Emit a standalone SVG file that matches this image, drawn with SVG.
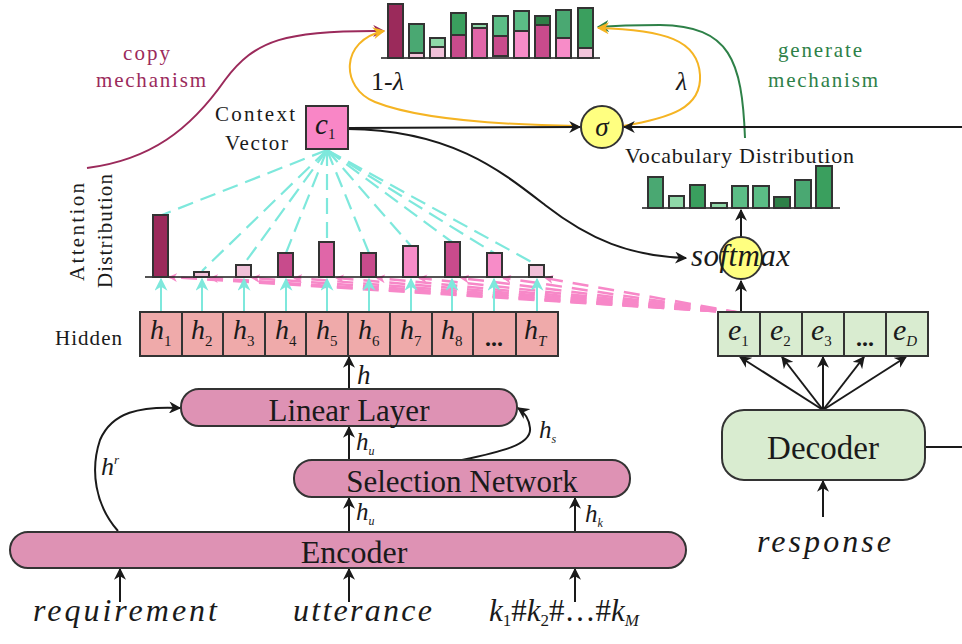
<svg xmlns="http://www.w3.org/2000/svg" width="962" height="644" viewBox="0 0 962 644">
<style>
.t{font-family:"Liberation Serif","Times New Roman",serif;fill:#1a1a1a}
.i{font-family:"Liberation Serif","Times New Roman",serif;font-style:italic;fill:#1a1a1a}
.n{font-style:normal}
.bar{stroke:#333;stroke-width:2}
.box{stroke:#333;stroke-width:2}
.blk{fill:none;stroke:#1a1a1a;stroke-width:2}
.cy{fill:none;stroke:#7ee8dc;stroke-width:2}
.cyd{fill:none;stroke:#7ee8dc;stroke-width:2.2;stroke-dasharray:16 8}
.pkd{fill:none;stroke:#f788c8;stroke-width:2.5;stroke-dasharray:16 10}
.base{stroke:#1a1a1a;stroke-width:1.5}
</style>
<defs>
<marker id="ab" viewBox="0 0 10 10" refX="9" refY="5" markerWidth="12" markerHeight="12" markerUnits="userSpaceOnUse" orient="auto"><path d="M0,0 L10,5 L0,10 L3,5 z" fill="#1a1a1a"/></marker>
<marker id="ac" viewBox="0 0 10 10" refX="9" refY="5" markerWidth="13" markerHeight="13" markerUnits="userSpaceOnUse" orient="auto"><path d="M0,0 L10,5 L0,10 L3,5 z" fill="#7ee8dc"/></marker>
<marker id="ao" viewBox="0 0 10 10" refX="9" refY="5" markerWidth="12" markerHeight="12" markerUnits="userSpaceOnUse" orient="auto"><path d="M0,0 L10,5 L0,10 L3,5 z" fill="#f5b423"/></marker>
<marker id="ap" viewBox="0 0 10 10" refX="9" refY="5" markerWidth="12" markerHeight="12" markerUnits="userSpaceOnUse" orient="auto"><path d="M0,0 L10,5 L0,10 L3,5 z" fill="#9b2a5b"/></marker>
<marker id="ag" viewBox="0 0 10 10" refX="9" refY="5" markerWidth="12" markerHeight="12" markerUnits="userSpaceOnUse" orient="auto"><path d="M0,0 L10,5 L0,10 L3,5 z" fill="#2e8148"/></marker>
<marker id="ak" viewBox="0 0 10 10" refX="9" refY="5" markerWidth="9" markerHeight="9" markerUnits="userSpaceOnUse" orient="auto"><path d="M0,0 L10,5 L0,10 L3,5 z" fill="#f788c8"/></marker>
</defs>
<rect width="962" height="644" fill="#fff"/>

<!-- Final mixed distribution -->
<g id="final-dist">
<line class="base" x1="381" y1="58" x2="600" y2="58"/>
<rect class="bar" x="388" y="4" width="15" height="54" fill="#9b2a5b"/>
<rect x="409" y="24" width="15" height="29" fill="#4aa872"/><rect x="409" y="53" width="15" height="5" fill="#f2c4da"/><rect class="bar" x="409" y="24" width="15" height="34" fill="none"/><line class="bar" x1="409" y1="53" x2="424" y2="53"/>
<rect x="430" y="38" width="15" height="9" fill="#8fd8a8"/><rect x="430" y="47" width="15" height="11" fill="#f0c0d8"/><rect class="bar" x="430" y="38" width="15" height="20" fill="none"/><line class="bar" x1="430" y1="47" x2="445" y2="47"/>
<rect x="451" y="13" width="15" height="22" fill="#3a9f5e"/><rect x="451" y="35" width="15" height="23" fill="#c84b8c"/><rect class="bar" x="451" y="13" width="15" height="45" fill="none"/><line class="bar" x1="451" y1="35" x2="466" y2="35"/>
<rect x="472" y="24" width="15" height="4" fill="#8fd8a8"/><rect x="472" y="28" width="15" height="30" fill="#e066a8"/><rect class="bar" x="472" y="24" width="15" height="34" fill="none"/><line class="bar" x1="472" y1="28" x2="487" y2="28"/>
<rect x="493" y="16" width="15" height="20" fill="#5bbd86"/><rect x="493" y="36" width="15" height="20" fill="#c84b8c"/><rect class="bar" x="493" y="16" width="15" height="40" fill="none"/><line class="bar" x1="493" y1="36" x2="508" y2="36"/>
<rect x="514" y="11" width="15" height="20" fill="#5bbd86"/><rect x="514" y="31" width="15" height="27" fill="#f78cc8"/><rect class="bar" x="514" y="11" width="15" height="47" fill="none"/><line class="bar" x1="514" y1="31" x2="529" y2="31"/>
<rect x="535" y="16" width="15" height="9" fill="#2e8148"/><rect x="535" y="25" width="15" height="33" fill="#c84b8c"/><rect class="bar" x="535" y="16" width="15" height="42" fill="none"/><line class="bar" x1="535" y1="25" x2="550" y2="25"/>
<rect x="556" y="10" width="15" height="28" fill="#4aa872"/><rect x="556" y="38" width="15" height="20" fill="#f78cc8"/><rect class="bar" x="556" y="10" width="15" height="48" fill="none"/><line class="bar" x1="556" y1="38" x2="571" y2="38"/>
<rect x="578" y="8" width="15" height="40" fill="#3a9f5e"/><rect x="578" y="48" width="15" height="10" fill="#f2c4da"/><rect class="bar" x="578" y="8" width="15" height="50" fill="none"/><line class="bar" x1="578" y1="48" x2="593" y2="48"/>
</g>

<!-- Connectors -->
<g id="connectors">
<path d="M87,168 C150,160 190,130 225,80 C255,40 285,30 384,31" fill="none" stroke="#9b2a5b" stroke-width="2" marker-end="url(#ap)"/>
<path d="M745,138 C742,60 730,26 660,25 C630,25 610,26 598,27" fill="none" stroke="#2e8148" stroke-width="2" marker-end="url(#ag)"/>
<path d="M578,126 C510,125 420,120 375,102 C340,88 340,40 384,31" fill="none" stroke="#f5b423" stroke-width="2" marker-end="url(#ao)"/>
<path d="M623,126 C670,118 702,108 700,75 C698,40 665,30 598,28" fill="none" stroke="#f5b423" stroke-width="2" marker-end="url(#ao)"/>
<line class="blk" x1="348" y1="128" x2="580" y2="127" marker-end="url(#ab)"/>
<line class="blk" x1="962" y1="127" x2="624" y2="127" marker-end="url(#ab)"/>
<path class="blk" d="M348,129 C450,130 500,170 545,205 C590,240 630,256 686,258" marker-end="url(#ab)"/>
<line class="blk" x1="741" y1="312" x2="741" y2="281" marker-end="url(#ab)"/>
<line class="blk" x1="741" y1="237" x2="741" y2="210" marker-end="url(#ab)"/>
<line class="blk" x1="823" y1="410" x2="740" y2="357" marker-end="url(#ab)"/>
<line class="blk" x1="823" y1="410" x2="782" y2="357" marker-end="url(#ab)"/>
<line class="blk" x1="823" y1="410" x2="823" y2="357" marker-end="url(#ab)"/>
<line class="blk" x1="823" y1="410" x2="864" y2="357" marker-end="url(#ab)"/>
<line class="blk" x1="823" y1="410" x2="906" y2="357" marker-end="url(#ab)"/>
<line class="blk" x1="925" y1="447" x2="962" y2="447"/>
<line class="blk" x1="823" y1="517" x2="823" y2="481" marker-end="url(#ab)"/>
<line class="pkd" x1="742" y1="313" x2="169" y2="277" marker-end="url(#ak)"/>
<line class="pkd" x1="742" y1="313" x2="210" y2="278" marker-end="url(#ak)"/>
<line class="pkd" x1="742" y1="313" x2="252" y2="278" marker-end="url(#ak)"/>
<line class="pkd" x1="742" y1="313" x2="294" y2="278" marker-end="url(#ak)"/>
<line class="pkd" x1="742" y1="313" x2="336" y2="278" marker-end="url(#ak)"/>
<line class="pkd" x1="742" y1="313" x2="377" y2="278" marker-end="url(#ak)"/>
<line class="pkd" x1="742" y1="313" x2="419" y2="278" marker-end="url(#ak)"/>
<line class="pkd" x1="742" y1="313" x2="461" y2="278" marker-end="url(#ak)"/>
<line class="pkd" x1="742" y1="313" x2="503" y2="278" marker-end="url(#ak)"/>
<line class="pkd" x1="742" y1="313" x2="545" y2="278" marker-end="url(#ak)"/>
<line class="cyd" x1="327" y1="150" x2="162" y2="215"/>
<line class="cyd" x1="327" y1="150" x2="202" y2="271"/>
<line class="cyd" x1="327" y1="150" x2="244" y2="264"/>
<line class="cyd" x1="327" y1="150" x2="286" y2="253"/>
<line class="cyd" x1="327" y1="150" x2="327" y2="242"/>
<line class="cyd" x1="327" y1="150" x2="369" y2="253"/>
<line class="cyd" x1="327" y1="150" x2="411" y2="246"/>
<line class="cyd" x1="327" y1="150" x2="452" y2="242"/>
<line class="cyd" x1="327" y1="150" x2="494" y2="253"/>
<line class="cyd" x1="327" y1="150" x2="537" y2="265"/>
<line class="cy" x1="161" y1="312" x2="161" y2="279" marker-end="url(#ac)"/>
<line class="cy" x1="202" y1="312" x2="202" y2="279" marker-end="url(#ac)"/>
<line class="cy" x1="244" y1="312" x2="244" y2="279" marker-end="url(#ac)"/>
<line class="cy" x1="286" y1="312" x2="286" y2="279" marker-end="url(#ac)"/>
<line class="cy" x1="327" y1="312" x2="327" y2="279" marker-end="url(#ac)"/>
<line class="cy" x1="369" y1="312" x2="369" y2="279" marker-end="url(#ac)"/>
<line class="cy" x1="411" y1="312" x2="411" y2="279" marker-end="url(#ac)"/>
<line class="cy" x1="452" y1="312" x2="452" y2="279" marker-end="url(#ac)"/>
<line class="cy" x1="494" y1="312" x2="494" y2="279" marker-end="url(#ac)"/>
<line class="cy" x1="537" y1="312" x2="537" y2="279" marker-end="url(#ac)"/>
<line class="blk" x1="349" y1="389" x2="349" y2="357" marker-end="url(#ab)"/>
<line class="blk" x1="349" y1="460" x2="349" y2="427" marker-end="url(#ab)"/>
<line class="blk" x1="349" y1="532" x2="349" y2="498" marker-end="url(#ab)"/>
<line class="blk" x1="575" y1="532" x2="575" y2="498" marker-end="url(#ab)"/>
<path class="blk" d="M462,460 C500,452 532,445 530,428 C529,418 524,412 518,408" marker-end="url(#ab)"/>
<path class="blk" d="M118,531 C95,505 90,470 100,440 C112,412 140,406 180,408" marker-end="url(#ab)"/>
<line class="blk" x1="120" y1="602" x2="120" y2="569" marker-end="url(#ab)"/>
<line class="blk" x1="349" y1="602" x2="349" y2="569" marker-end="url(#ab)"/>
<line class="blk" x1="575" y1="602" x2="575" y2="569" marker-end="url(#ab)"/>
</g>

<g id="labels">
<text class="t" x="123" y="60" font-size="21" textLength="47" lengthAdjust="spacing" style="fill:#9b2a5b">copy</text>
<text class="t" x="96" y="87" font-size="21" textLength="110" lengthAdjust="spacing" style="fill:#9b2a5b">mechanism</text>
<text class="t" x="778" y="57" font-size="21" textLength="84" lengthAdjust="spacing" style="fill:#2e8148">generate</text>
<text class="t" x="768" y="87" font-size="21" textLength="110" lengthAdjust="spacing" style="fill:#2e8148">mechanism</text>
<text class="t" x="371" y="90" font-size="26">1-<tspan class="i">λ</tspan></text>
<text class="i" x="676" y="90" font-size="26">λ</text>
<text class="t" x="215" y="121" font-size="21" textLength="80" lengthAdjust="spacing">Context</text>
<text class="t" x="225" y="150" font-size="21" textLength="63" lengthAdjust="spacing">Vector</text>
<text class="t" x="55" y="345" font-size="21" textLength="67" lengthAdjust="spacing">Hidden</text>
<text class="t" transform="translate(84,232) rotate(-90)" text-anchor="middle" font-size="21" textLength="98" lengthAdjust="spacing">Attention</text>
<text class="t" transform="translate(112,231) rotate(-90)" text-anchor="middle" font-size="21" textLength="114" lengthAdjust="spacing">Distribution</text>
<text class="i" x="101" y="475" font-size="26">h<tspan font-size="13" dy="-11">r</tspan></text>
<text class="i" x="357" y="384" font-size="27">h</text>
<text class="i" x="356" y="450" font-size="25">h<tspan font-size="12" dy="5">u</tspan></text>
<text class="i" x="356" y="520" font-size="25">h<tspan font-size="12" dy="5">u</tspan></text>
<text class="i" x="539" y="438" font-size="25">h<tspan font-size="12" dy="5">s</tspan></text>
<text class="i" x="585" y="522" font-size="25">h<tspan font-size="12" dy="5">k</tspan></text>
<text class="i" x="33" y="621" font-size="32" textLength="184" lengthAdjust="spacing">requirement</text>
<text class="i" x="293" y="621" font-size="32" textLength="139" lengthAdjust="spacing">utterance</text>
<text class="i" x="489" y="621" font-size="31">k<tspan font-size="17" dy="5" class="n">1</tspan><tspan dy="-5" class="n">#</tspan>k<tspan font-size="17" dy="5" class="n">2</tspan><tspan dy="-5" class="n">#…#</tspan>k<tspan font-size="17" dy="5">M</tspan></text>
<text class="i" x="757" y="552" font-size="32" textLength="134" lengthAdjust="spacing">response</text>
<text class="t" x="625" y="163" font-size="22" textLength="229" lengthAdjust="spacing">Vocabulary Distribution</text>
</g>

<g id="context-vector">
<rect class="box" x="306" y="106" width="42" height="43" fill="#f986c6"/>
<text class="i" x="315" y="134" font-size="29">c<tspan font-size="15" dy="5" class="n">1</tspan></text>
</g>

<g id="sigma">
<circle cx="602" cy="127" r="21" fill="#ffff80" stroke="#333" stroke-width="2"/>
<text class="i" x="602" y="136" font-size="27" text-anchor="middle">σ</text>
</g>

<g id="vocab-dist">
<line class="base" x1="642" y1="208" x2="840" y2="208"/>
<rect class="bar" x="648" y="177" width="15" height="31" fill="#4aa872"/>
<rect class="bar" x="669" y="196" width="15" height="12" fill="#8fd8a8"/>
<rect class="bar" x="690" y="185" width="15" height="23" fill="#3a9f5e"/>
<rect class="bar" x="711" y="203" width="16" height="5" fill="#8fd8a8"/>
<rect class="bar" x="732" y="186" width="16" height="22" fill="#5bbd86"/>
<rect class="bar" x="753" y="186" width="16" height="22" fill="#5bbd86"/>
<rect class="bar" x="774" y="197" width="16" height="11" fill="#2e8148"/>
<rect class="bar" x="795" y="180" width="16" height="28" fill="#4aa872"/>
<rect class="bar" x="816" y="166" width="16" height="42" fill="#3a9f5e"/>
</g>

<g id="softmax">
<circle cx="741" cy="258" r="21" fill="#ffff80" stroke="#333" stroke-width="2"/>
<text class="i" x="691" y="266" font-size="31" textLength="99" lengthAdjust="spacing">softmax</text>
</g>

<g id="attention-dist">
<line class="base" x1="145" y1="277" x2="553" y2="277"/>
<rect class="bar" x="153" y="215" width="15" height="62" fill="#9b2a5b"/>
<rect class="bar" x="194" y="272" width="15" height="5" fill="#f0c0d8"/>
<rect class="bar" x="236" y="265" width="15" height="12" fill="#f0c0d8"/>
<rect class="bar" x="278" y="253" width="15" height="24" fill="#c84b8c"/>
<rect class="bar" x="319" y="242" width="15" height="35" fill="#e066a8"/>
<rect class="bar" x="361" y="253" width="15" height="24" fill="#c84b8c"/>
<rect class="bar" x="403" y="246" width="15" height="31" fill="#f78cc8"/>
<rect class="bar" x="445" y="242" width="15" height="35" fill="#c84b8c"/>
<rect class="bar" x="487" y="253" width="15" height="24" fill="#f78cc8"/>
<rect class="bar" x="529" y="265" width="15" height="12" fill="#f0c0d8"/>
</g>

<g id="hidden">
<rect class="box" x="140" y="312" width="42" height="44" fill="#efaaaa"/>
<rect class="box" x="182" y="312" width="41" height="44" fill="#efaaaa"/>
<rect class="box" x="223" y="312" width="42" height="44" fill="#efaaaa"/>
<rect class="box" x="265" y="312" width="41" height="44" fill="#efaaaa"/>
<rect class="box" x="306" y="312" width="42" height="44" fill="#efaaaa"/>
<rect class="box" x="348" y="312" width="42" height="44" fill="#efaaaa"/>
<rect class="box" x="390" y="312" width="42" height="44" fill="#efaaaa"/>
<rect class="box" x="432" y="312" width="41" height="44" fill="#efaaaa"/>
<rect class="box" x="473" y="312" width="43" height="44" fill="#efaaaa"/>
<rect class="box" x="516" y="312" width="42" height="44" fill="#efaaaa"/>
<text class="i" x="150" y="339" font-size="28">h<tspan font-size="15" dy="7" class="n">1</tspan></text>
<text class="i" x="191" y="339" font-size="28">h<tspan font-size="15" dy="7" class="n">2</tspan></text>
<text class="i" x="233" y="339" font-size="28">h<tspan font-size="15" dy="7" class="n">3</tspan></text>
<text class="i" x="275" y="339" font-size="28">h<tspan font-size="15" dy="7" class="n">4</tspan></text>
<text class="i" x="316" y="339" font-size="28">h<tspan font-size="15" dy="7" class="n">5</tspan></text>
<text class="i" x="358" y="339" font-size="28">h<tspan font-size="15" dy="7" class="n">6</tspan></text>
<text class="i" x="400" y="339" font-size="28">h<tspan font-size="15" dy="7" class="n">7</tspan></text>
<text class="i" x="441" y="339" font-size="28">h<tspan font-size="15" dy="7" class="n">8</tspan></text>
<text class="t" x="494" y="346" font-size="24" text-anchor="middle" font-weight="bold">...</text>
<text class="i" x="524" y="339" font-size="28">h<tspan font-size="15" dy="7">T</tspan></text>
</g>

<g id="e-states">
<rect class="box" x="718" y="312" width="42" height="44" fill="#d9ecd0"/>
<rect class="box" x="760" y="312" width="42" height="44" fill="#d9ecd0"/>
<rect class="box" x="802" y="312" width="42" height="44" fill="#d9ecd0"/>
<rect class="box" x="844" y="312" width="42" height="44" fill="#d9ecd0"/>
<rect class="box" x="886" y="312" width="42" height="44" fill="#d9ecd0"/>
<text class="i" x="728" y="340" font-size="30">e<tspan font-size="15" dy="6" class="n">1</tspan></text>
<text class="i" x="770" y="340" font-size="30">e<tspan font-size="15" dy="6" class="n">2</tspan></text>
<text class="i" x="811" y="340" font-size="30">e<tspan font-size="15" dy="6" class="n">3</tspan></text>
<text class="t" x="865" y="346" font-size="24" text-anchor="middle" font-weight="bold">...</text>
<text class="i" x="893" y="340" font-size="30">e<tspan font-size="15" dy="6">D</tspan></text>
</g>

<g id="linear-layer">
<rect class="box" x="181" y="389" width="336" height="37" rx="18" fill="#de92b4"/>
<text class="t" x="349" y="421" font-size="31" text-anchor="middle">Linear Layer</text>
</g>
<g id="selection-network">
<rect class="box" x="294" y="460" width="336" height="37" rx="18" fill="#de92b4"/>
<text class="t" x="462" y="492" font-size="31" text-anchor="middle">Selection Network</text>
</g>
<g id="encoder">
<rect class="box" x="10" y="532" width="676" height="36" rx="18" fill="#de92b4"/>
<text class="t" x="354" y="563" font-size="32" text-anchor="middle">Encoder</text>
</g>
<g id="decoder">
<rect class="box" x="722" y="410" width="203" height="70" rx="22" fill="#d9ecd0"/>
<text class="t" x="823" y="459" font-size="33" text-anchor="middle">Decoder</text>
</g>
</svg>
